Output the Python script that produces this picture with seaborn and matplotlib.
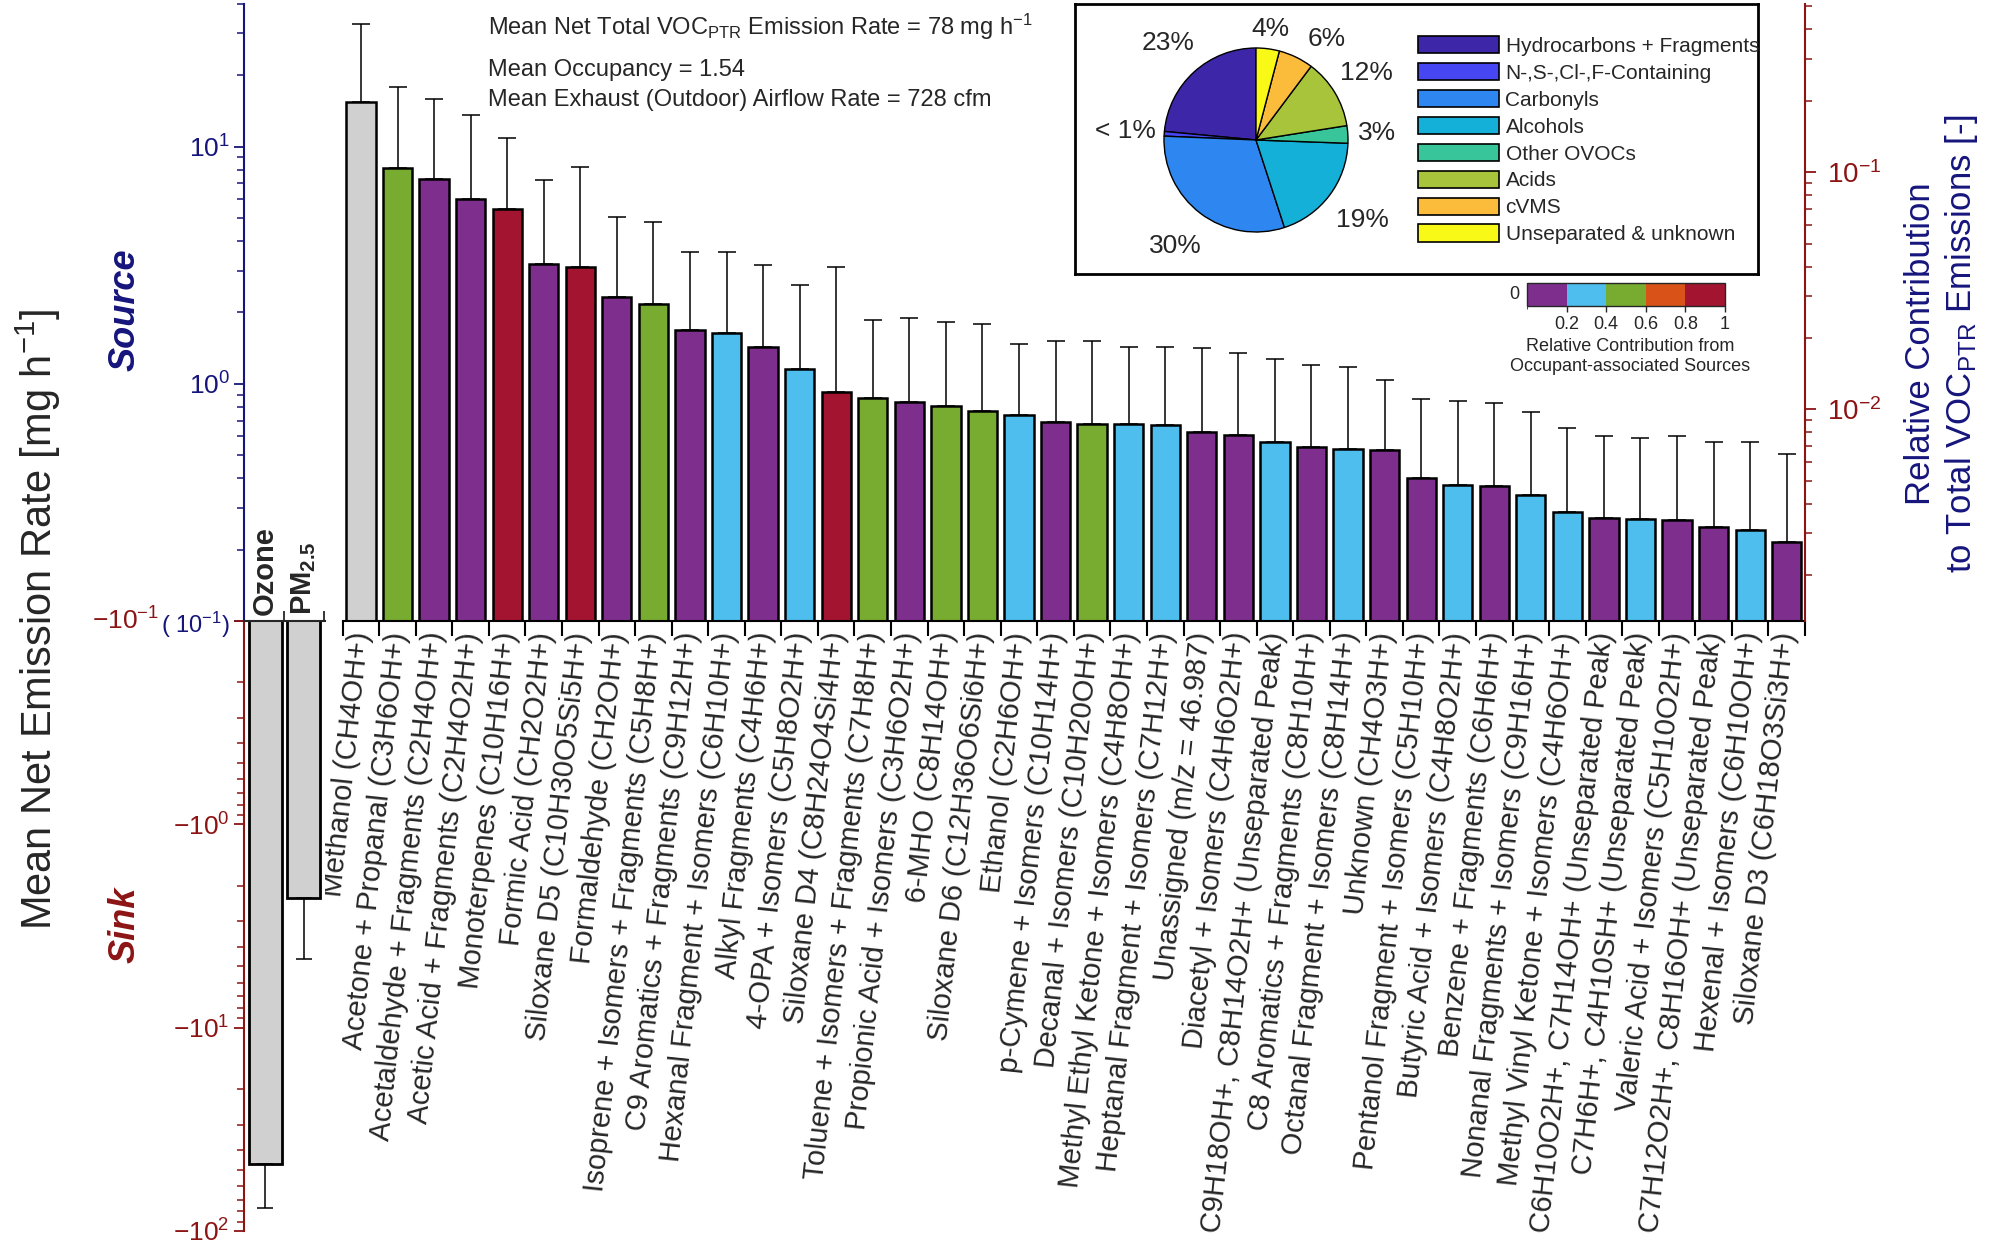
import numpy as np
import pandas as pd
import matplotlib.pyplot as plt
import seaborn as sns
from matplotlib.patches import Patch
from matplotlib.colors import ListedColormap, BoundaryNorm
from matplotlib.cm import ScalarMappable

# ── data ─────────────────────────────────────────────────────
species = [
    "Methanol (CH4OH+)", "Acetone + Propanal (C3H6OH+)",
    "Acetaldehyde + Fragments (C2H4OH+)", "Acetic Acid + Fragments (C2H4O2H+)",
    "Monoterpenes (C10H16H+)", "Formic Acid (CH2O2H+)",
    "Siloxane D5 (C10H30O5Si5H+)", "Formaldehyde (CH2OH+)",
    "Isoprene + Isomers + Fragments (C5H8H+)", "C9 Aromatics + Fragments (C9H12H+)",
    "Hexanal Fragment + Isomers (C6H10H+)", "Alkyl Fragments (C4H6H+)",
    "4-OPA + Isomers (C5H8O2H+)", "Siloxane D4 (C8H24O4Si4H+)",
    "Toluene + Isomers + Fragments (C7H8H+)", "Propionic Acid + Isomers (C3H6O2H+)",
    "6-MHO (C8H14OH+)", "Siloxane D6 (C12H36O6Si6H+)", "Ethanol (C2H6OH+)",
    "p-Cymene + Isomers (C10H14H+)", "Decanal + Isomers (C10H20OH+)",
    "Methyl Ethyl Ketone + Isomers (C4H8OH+)", "Heptanal Fragment + Isomers (C7H12H+)",
    "Unassigned (m/z = 46.987)", "Diacetyl + Isomers (C4H6O2H+)",
    "C9H18OH+, C8H14O2H+ (Unseparated Peak)", "C8 Aromatics + Fragments (C8H10H+)",
    "Octanal Fragment + Isomers (C8H14H+)", "Unknown (CH4O3H+)",
    "Pentanol Fragment + Isomers (C5H10H+)", "Butyric Acid + Isomers (C4H8O2H+)",
    "Benzene + Fragments (C6H6H+)", "Nonanal Fragments + Isomers (C9H16H+)",
    "Methyl Vinyl Ketone + Isomers (C4H6OH+)", "C6H10O2H+, C7H14OH+ (Unseparated Peak)",
    "C7H6H+, C4H10SH+ (Unseparated Peak)", "Valeric Acid + Isomers (C5H10O2H+)",
    "C7H12O2H+, C8H16OH+ (Unseparated Peak)", "Hexenal + Isomers (C6H10OH+)",
    "Siloxane D3 (C6H18O3Si3H+)",
]
rate = [15.4, 8.1, 7.3, 6.0, 5.45, 3.2, 3.1, 2.32, 2.18, 1.68,
        1.63, 1.43, 1.16, 0.92, 0.87, 0.84, 0.81, 0.77, 0.74, 0.69,
        0.68, 0.68, 0.67, 0.625, 0.61, 0.566, 0.54, 0.53, 0.525, 0.40,
        0.376, 0.37, 0.34, 0.287, 0.272, 0.27, 0.266, 0.25, 0.241, 0.215]
rate_upper = [33, 17.9, 15.8, 13.6, 10.9, 7.25, 8.2, 5.06, 4.8, 3.6,
              3.6, 3.16, 2.6, 3.1, 1.86, 1.9, 1.83, 1.79, 1.47, 1.52,
              1.52, 1.43, 1.43, 1.41, 1.35, 1.27, 1.2, 1.18, 1.04, 0.86,
              0.85, 0.83, 0.76, 0.65, 0.6, 0.59, 0.6, 0.566, 0.566, 0.506]
# occupant-contribution bin (0: 0-0.2 ... 4: 0.8-1, -1: not assigned)
occ_bin = [-1, 2, 0, 0, 4, 0, 4, 0, 2, 0,
           1, 0, 1, 4, 2, 0, 2, 2, 1, 0,
           2, 1, 1, 0, 0, 1, 0, 1, 0, 0,
           1, 0, 1, 1, 0, 1, 0, 0, 1, 0]

sink_names = ["Ozone", r"$\mathbf{PM_{2.5}}$"]
sink_rate = [47, 2.3]
sink_upper = [77, 4.6]

pie_groups = ["Hydrocarbons + Fragments", "N-,S-,Cl-,F-Containing", "Carbonyls",
              "Alcohols", "Other OVOCs", "Acids", "cVMS", "Unseparated & unknown"]
pie_share = [23, 0.8, 30, 19, 3, 12, 6, 4]
pie_text = ["23%", "< 1%", "30%", "19%", "3%", "12%", "6%", "4%"]
pie_colors = ["#3E26A8", "#4647F2", "#2E87F0", "#14B0D8", "#38C59A",
              "#A8C43A", "#FBBC3C", "#F9F917"]
pie_label_dist = [1.42, 1.42, 1.45, 1.45, 1.32, 1.4, 1.34, 1.22]
pie_label_turn = [0, 0, 0, 0, 0, 0, -9, 0]  # degrees

occ_colors = ["#7E2F8E", "#4DBEEE", "#77AC30", "#D95319", "#A2142F"]
occ_edges = [0, 0.2, 0.4, 0.6, 0.8, 1.0]
occ_ticks = ["0.2", "0.4", "0.6", "0.8", "1"]

NAVY = "#15157C"
DRED = "#8C1414"
GRAY = "#D0D0D0"
TOTAL = 78  # mg/h

sns.set_style("ticks")
plt.rcParams["font.family"] = ["Liberation Sans", "DejaVu Sans"]
plt.rcParams["mathtext.fontset"] = "custom"
plt.rcParams["mathtext.rm"] = "Liberation Sans"
plt.rcParams["mathtext.it"] = "Liberation Sans:italic"
plt.rcParams["mathtext.bf"] = "Liberation Sans:bold"

W, H = 2000, 1257
fig = plt.figure(figsize=(W / 100, H / 100), dpi=100)


def fx(px):
    return px / W


def fy(py):
    return 1 - py / H


# ── source (main) axes ───────────────────────────────────────
ax = fig.add_axes([fx(243.6), fy(621), fx(1805 - 243.6), (621 - 3.8) / H])
pos = np.arange(len(species))
df = pd.DataFrame({"pos": pos, "rate": rate,
                   "bin": ["na" if b < 0 else f"b{b}" for b in occ_bin]})
pal = {"na": GRAY}
pal.update({f"b{i}": c for i, c in enumerate(occ_colors)})
sns.barplot(data=df, x="pos", y="rate", hue="bin", palette=pal, native_scale=True,
            dodge=False, legend=False, errorbar=None, width=0.8, saturation=1,
            edgecolor="black", linewidth=1.8, ax=ax)
ax.errorbar(pos, rate, yerr=[np.zeros(len(rate)), np.array(rate_upper) - np.array(rate)],
            fmt="none", ecolor="black", elinewidth=1.1, capsize=6.5, capthick=1.1, zorder=1)
ax.set_yscale("log")
ax.set_ylim(0.1, 40)
ax.set_xlim(-3.21, 39.5)
ax.set_xlabel("")
ax.set_ylabel("")

ax.set_xticks(pos)
ax.set_xticklabels(species, rotation=84, ha="right", va="center",
                   rotation_mode="anchor", fontsize=21)
ax.set_xticks(np.arange(-0.5, len(species), 1), minor=True)
ax.tick_params(axis="x", which="major", length=0, pad=8)
ax.tick_params(axis="x", which="minor", length=11, width=1.5, direction="out", color="black")
ax.set_yticks([0.1, 1, 10])
ax.set_yticklabels(["( $10^{-1}$)", "$10^{0}$", "$10^{1}$"], fontsize=19, color=NAVY)
ax.get_yticklabels()[0].set_fontsize(17)
ax.tick_params(axis="y", which="both", color=NAVY, direction="out", pad=3)
ax.tick_params(axis="y", which="major", length=7, width=1.3)
ax.tick_params(axis="y", which="minor", length=5, width=1.1)
for s in ["top", "right"]:
    ax.spines[s].set_visible(False)
ax.spines["left"].set_color(NAVY)
ax.spines["left"].set_linewidth(1.5)
ax.spines["bottom"].set_bounds(-0.5, 39.5)
ax.spines["bottom"].set_linewidth(1.5)
ax.spines["bottom"].set_color("black")

# right axis: contribution to total VOC emissions
ax2 = ax.twinx()
ax2.set_yscale("log")
ax2.set_ylim(0.1 / TOTAL, 40 / TOTAL)
for s in ["top", "left", "bottom"]:
    ax2.spines[s].set_visible(False)
ax2.spines["right"].set_color(DRED)
ax2.spines["right"].set_linewidth(1.5)
ax2.tick_params(axis="y", which="both", color=DRED, labelcolor=DRED, labelsize=20)
ax2.tick_params(axis="y", which="major", length=8, width=1.3, pad=8)
ax2.tick_params(axis="y", which="minor", length=5, width=1.1)

ax.text(-2.62, 0.106, "Ozone", rotation=90, ha="center", va="bottom",
        fontsize=21, fontweight="bold")
ax.text(-1.57, 0.106, sink_names[1], rotation=90, ha="center", va="bottom", fontsize=21)

# ── sink axes ────────────────────────────────────────────────
axs = fig.add_axes([fx(243.6), fy(1231), fx(81.4), 610 / H])
sdf = pd.DataFrame({"pos": [-2.62, -1.57], "rate": sink_rate})
sns.barplot(data=sdf, x="pos", y="rate", native_scale=True, color=GRAY, errorbar=None,
            width=0.86, saturation=1, edgecolor="black", linewidth=2, ax=axs)
axs.errorbar(sdf["pos"], sink_rate,
             yerr=[np.zeros(2), np.array(sink_upper) - np.array(sink_rate)],
             fmt="none", ecolor="black", elinewidth=1.1, capsize=6, capthick=1.1)
axs.set_yscale("log")
axs.set_ylim(100, 0.1)
axs.set_xlim(-3.21, -0.984)
axs.set_xlabel("")
axs.set_ylabel("")
axs.set_yticks([0.1, 1, 10, 100])
axs.set_yticklabels(["", "$-10^{0}$", "$-10^{1}$", "$-10^{2}$"], fontsize=19, color=DRED)
axs.tick_params(axis="y", which="both", color=DRED, direction="out", pad=3)
axs.tick_params(axis="y", which="major", length=7, width=1.3)
axs.tick_params(axis="y", which="minor", length=5, width=1.1)
axs.set_xticks([-2.095, -1.0])
axs.tick_params(axis="x", bottom=False, top=True, labelbottom=False, labeltop=False,
                length=7, width=1.3, direction="out")
for s in ["bottom", "right"]:
    axs.spines[s].set_visible(False)
axs.spines["left"].set_color(DRED)
axs.spines["left"].set_linewidth(1.5)
axs.spines["top"].set_linewidth(1.5)
axs.annotate("$-10^{-1}$", xy=(0, 0.1), xycoords=("axes fraction", "data"),
             xytext=(-84, 0), textcoords="offset pixels", ha="right", va="center",
             fontsize=19, color=DRED)

# ── figure texts ─────────────────────────────────────────────
fig.text(fx(38), fy(619), "Mean Net Emission Rate [mg h$^{-1}$]", rotation=90,
         ha="center", va="center", fontsize=30)
fig.text(fx(125), fy(310), "Source", rotation=90, ha="center", va="center",
         fontsize=26, fontweight="bold", fontstyle="italic", color=NAVY)
fig.text(fx(125), fy(925), "Sink", rotation=90, ha="center", va="center",
         fontsize=26, fontweight="bold", fontstyle="italic", color=DRED)
fig.text(fx(1942), fy(344), "Relative Contribution\nto Total VOC$_{\\mathrm{PTR}}$ Emissions [-]",
         rotation=90, ha="center", va="center", multialignment="center",
         fontsize=25, color=NAVY, linespacing=1.25)

fig.text(fx(488), fy(27), "Mean Net Total VOC$_{\\mathrm{PTR}}$ Emission Rate = 78 mg h$^{-1}$",
         ha="left", va="center", fontsize=17)
fig.text(fx(488), fy(70), "Mean Occupancy = 1.54", ha="left", va="center", fontsize=17)
fig.text(fx(488), fy(100), "Mean Exhaust (Outdoor) Airflow Rate = 728 cfm",
         ha="left", va="center", fontsize=17)

# ── inset: pie of VOC groups ─────────────────────────────────
box = fig.add_axes([fx(1075), fy(274), fx(1758 - 1075), (274 - 4) / H])
box.set_xticks([])
box.set_yticks([])
for s in box.spines.values():
    s.set_linewidth(2)
    s.set_color("black")

pax = fig.add_axes([fx(1256 - 92), fy(140 + 92), fx(184), 184 / H])
wedges, texts = pax.pie(pie_share, colors=pie_colors, startangle=90, counterclock=True,
                        labels=pie_text, labeldistance=1.4,
                        wedgeprops=dict(edgecolor="black", linewidth=1),
                        textprops=dict(fontsize=19, ha="center", va="center"))
for w, t, d, turn in zip(wedges, texts, pie_label_dist, pie_label_turn):
    ang = np.deg2rad((w.theta1 + w.theta2) / 2 + turn)
    t.set_position((d * np.cos(ang), d * np.sin(ang)))
pax.set_xlim(-1, 1)
pax.set_ylim(-1, 1)

handles = [Patch(facecolor=c, edgecolor="black", linewidth=1.2) for c in pie_colors]
fig.legend(handles, pie_groups, loc="upper left", bbox_to_anchor=(fx(1418), fy(36)),
           frameon=False, fontsize=15, handlelength=3.9, handleheight=0.9,
           labelspacing=0.34, handletextpad=0.3, borderaxespad=0, borderpad=0)

# ── colour bar: occupant-associated contribution ─────────────
cax = fig.add_axes([fx(1527), fy(306), fx(198), 23 / H])
cmap = ListedColormap(occ_colors)
norm = BoundaryNorm(occ_edges, cmap.N)
cb = fig.colorbar(ScalarMappable(norm=norm, cmap=cmap), cax=cax,
                  orientation="horizontal", ticks=occ_edges[1:])
cb.ax.set_xticklabels(occ_ticks)
cb.ax.tick_params(labelsize=13, length=4, width=1)
cb.outline.set_linewidth(1)
cax.text(-0.04, 0.5, "0", transform=cax.transAxes, ha="right", va="center", fontsize=13)
fig.text(fx(1630), fy(338), "Relative Contribution from\nOccupant-associated Sources",
         ha="center", va="top", fontsize=13, linespacing=1.25)

plt.savefig("out.png", dpi=100)
